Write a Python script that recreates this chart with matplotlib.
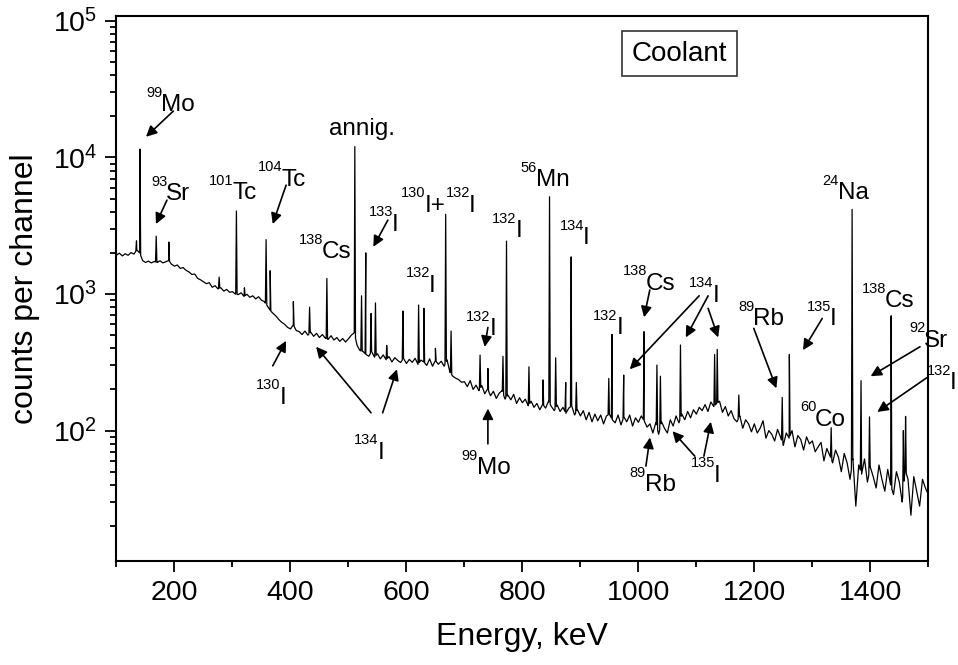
import numpy as np
import matplotlib
matplotlib.use("Agg")
import matplotlib.pyplot as plt
from matplotlib.ticker import LogLocator, MultipleLocator, NullFormatter
from matplotlib.transforms import offset_copy

plt.rcParams['font.family'] = ['Liberation Sans', 'DejaVu Sans']
plt.rcParams['mathtext.fontset'] = 'custom'
plt.rcParams['mathtext.rm'] = 'Liberation Sans'
plt.rcParams['mathtext.it'] = 'Liberation Sans:italic'
plt.rcParams['mathtext.bf'] = 'Liberation Sans:bold'

# Continuum of the coolant spectrum, sampled every 5 keV from 100 to 1500 keV
energy_start = 100
energy_step = 5
background = [
    1930, 1990, 1900, 1970, 1920, 2010, 1960, 2100, 2000, 1760, 1700, 1740, 1690, 1730, 1700, 1750, 1690, 1720, 1760, 1650,
    1600, 1630, 1540, 1560, 1490, 1450, 1390, 1400, 1300, 1270, 1230, 1190, 1210, 1120, 1150, 1090, 1110, 1050, 1080, 1030,
    1040, 1000, 990, 1020, 960, 995, 945, 970, 920, 955, 900, 880, 820, 760, 720, 690, 650, 620, 600, 570,
    555, 595, 540, 530, 505, 535, 500, 525, 490, 515, 480, 505, 475, 465, 495, 460, 480, 450, 472, 445,
    470, 500, 520, 420, 385, 380, 362, 350, 378, 345, 365, 335, 358, 330, 348, 318, 342, 326, 315, 338,
    310, 332, 316, 338, 305, 328, 318, 300, 335, 296, 326, 306, 322, 296, 330, 268, 250, 242, 236, 226,
    228, 210, 232, 200, 215, 196, 214, 186, 202, 180, 194, 172, 188, 196, 170, 182, 168, 184, 158, 174,
    160, 170, 152, 164, 148, 158, 142, 156, 146, 164, 150, 140, 154, 138, 148, 134, 146, 152, 130, 142,
    128, 140, 120, 136, 116, 132, 118, 130, 112, 128, 132, 120, 114, 130, 110, 126, 116, 130, 108, 124,
    115, 128, 118, 106, 112, 96, 114, 94, 116, 104, 96, 120, 108, 128, 114, 132, 120, 138, 124, 142,
    132, 148, 140, 155, 138, 162, 150, 158, 164, 136, 150, 128, 140, 122, 116, 128, 104, 120, 112, 98,
    112, 96, 104, 118, 88, 100, 94, 84, 102, 90, 78, 96, 88, 100, 76, 92, 86, 72, 90, 80,
    84, 70, 76, 82, 60, 74, 66, 58, 72, 64, 50, 68, 58, 44, 62, 28, 56, 48, 62, 42,
    54, 46, 38, 56, 44, 36, 52, 40, 34, 50, 42, 30, 52, 44, 24, 46, 36, 28, 44, 38, 34,
]

# Photopeaks: energy (keV) and counts at the peak channel
peak_energy = [
    134.5, 140.5, 168.5, 190.3, 277.0, 306.8, 320.6, 358.0, 365.0, 405.0,
    433.0, 462.8, 511.0, 522.6, 529.9, 539.0, 546.6, 566.0, 594.0, 621.0,
    630.2, 650.0, 667.7, 677.0, 727.0, 740.5, 766.5, 772.6, 811.3, 835.5,
    846.8, 857.4, 874.7, 884.1, 893.0, 949.0, 954.6, 974.7, 1009.8, 1032.0,
    1038.0, 1072.6, 1131.5, 1136.0, 1173.2, 1248.1, 1260.4, 1332.5, 1368.6, 1384.0,
    1398.6, 1435.9, 1457.0, 1460.8,
]
peak_counts = [
    2450, 11500, 2650, 2400, 1330, 4050, 1110, 2500, 1480, 880,
    800, 1300, 12000, 970, 2000, 720, 860, 420, 750, 830,
    785, 400, 3830, 535, 357, 285, 350, 2440, 293, 235,
    5150, 341, 225, 1870, 225, 241, 506, 255, 530, 302,
    250, 423, 360, 393, 182, 175, 361, 105, 4160, 232,
    126, 693, 100, 127,
]

bg_e = energy_start + energy_step * np.arange(len(background))
bg_c = np.array(background, dtype=float)
pk_e = np.array(peak_energy)
pk_c = np.array(peak_counts, dtype=float)

# each peak is a narrow spike standing on the continuum
half_width = 1.2
foot_e = np.concatenate([pk_e - half_width, pk_e + half_width])
foot_c = np.exp(np.interp(foot_e, bg_e, np.log(bg_c)))
all_e = np.concatenate([bg_e, pk_e, foot_e])
all_c = np.concatenate([bg_c, pk_c, foot_c])
order = np.argsort(all_e, kind='stable')
all_e, all_c = all_e[order], all_c[order]

fig = plt.figure(figsize=(9.58, 6.65), dpi=100)
ax = fig.add_axes([0.1216, 0.1564, 0.8474, 0.8200])
ax.plot(all_e, all_c, color='black', lw=0.9)

ax.set_yscale('log')
ax.set_xlim(100, 1500)
ax.set_ylim(11.1, 1.09e5)
ax.xaxis.set_major_locator(MultipleLocator(200))
ax.xaxis.set_minor_locator(MultipleLocator(100))
ax.yaxis.set_major_locator(LogLocator(base=10, numticks=10))
ax.yaxis.set_minor_locator(LogLocator(base=10, subs=np.arange(2, 10), numticks=20))
ax.yaxis.set_minor_formatter(NullFormatter())
ax.tick_params(which='both', direction='out', top=False, right=False, width=1.3)
ax.tick_params(which='major', length=8, labelsize=20.5, pad=6)
ax.tick_params(which='minor', length=4.5)
for s in ax.spines.values():
    s.set_linewidth(1.5)

ax.set_xlabel('Energy, keV', fontsize=23, labelpad=11)
ax.set_ylabel('counts per channel', fontsize=23, labelpad=9)

renderer = fig.canvas.get_renderer()
main_size = 17.5
sup_size = 10.5
sup_rise = 10.5  # points


def nuclide_label(x, y, parts):
    """Draw a label made of (text, is_superscript) pieces, left-aligned on the baseline at (x, y)."""
    dx = 0.0
    for txt, is_sup in parts:
        tr = offset_copy(ax.transData, fig=fig, x=dx, y=sup_rise if is_sup else 0.0, units='points')
        t = ax.text(x, y, txt, transform=tr, fontsize=sup_size if is_sup else main_size,
                    ha='left', va='baseline', clip_on=False)
        bb = t.get_window_extent(renderer)
        dx += bb.width * 72.0 / fig.dpi - (0.8 if is_sup else 0.0)


labels = [
    ([('99', 1), ('Mo', 0)], 150.9, 21830),
    ([('93', 1), ('Sr', 0)], 159.5, 4864),
    ([('101', 1), ('Tc', 0)], 260.0, 4932),
    ([('104', 1), ('Tc', 0)], 343.6, 6194),
    ([('138', 1), ('Cs', 0)], 413.8, 1820),
    ([('annig.', 0)], 467.0, 14500),
    ([('133', 1), ('I', 0)], 534.6, 2904),
    ([('130', 1), ('I+', 0), ('132', 1), ('I', 0)], 591.0, 4000),
    ([('132', 1), ('I', 0)], 598.5, 1038),
    ([('132', 1), ('I', 0)], 748.0, 2594),
    ([('56', 1), ('Mn', 0)], 796.5, 6166),
    ([('134', 1), ('I', 0)], 864.0, 2317),
    ([('132', 1), ('I', 0)], 703.0, 500),
    ([('132', 1), ('I', 0)], 922.0, 506),
    ([('138', 1), ('Cs', 0)], 972.5, 1070),
    ([('134', 1), ('I', 0)], 1087.5, 877),
    ([('89', 1), ('Rb', 0)], 1172.0, 592),
    ([('135', 1), ('I', 0)], 1290.0, 592),
    ([('60', 1), ('Co', 0)], 1278.6, 108),
    ([('24', 1), ('Na', 0)], 1317.8, 4932),
    ([('138', 1), ('Cs', 0)], 1385.0, 798),
    ([('92', 1), ('Sr', 0)], 1467.0, 411),
    ([('132', 1), ('I', 0)], 1497.0, 200),
    ([('130', 1), ('I', 0)], 340.7, 157),
    ([('134', 1), ('I', 0)], 510.0, 62),
    ([('99', 1), ('Mo', 0)], 695.0, 48),
    ([('89', 1), ('Rb', 0)], 985.0, 36),
    ([('135', 1), ('I', 0)], 1090.0, 42),
]
for parts, x, y in labels:
    nuclide_label(x, y, parts)

arrows = [
    ((198.0, 21830), (150.9, 14160)),
    ((187.0, 4864), (168.0, 3251)),
    ((392.5, 6266), (369.4, 3251)),
    ((568.0, 3475), (543.0, 2218)),
    ((740.5, 569), (735.0, 410)),
    ((1019.7, 1070), (1009.8, 675)),
    ((1104.8, 970), (985.2, 281)),
    ((1120.3, 970), (1081.8, 481)),
    ((1120.3, 785), (1137.6, 481)),
    ((1199.0, 560), (1238.0, 204)),
    ((1317.0, 662), (1284.0, 388)),
    ((1485.7, 411), (1400.6, 250)),
    ((1500.0, 248), (1412.0, 137)),
    ((369.5, 298), (392.5, 454)),
    ((539.0, 135), (444.3, 411)),
    ((559.0, 135), (583.6, 281)),
    ((740.5, 80), (740.5, 145)),
    ((1013.0, 55), (1020.0, 89)),
    ((1097.3, 65), (1058.8, 99)),
    ((1113.0, 65), (1125.0, 116)),
]
for (x0, y0), (x1, y1) in arrows:
    ax.annotate('', xy=(x1, y1), xytext=(x0, y0), annotation_clip=False,
                arrowprops=dict(arrowstyle='-|>', color='black', lw=1.2,
                                mutation_scale=16, shrinkA=0, shrinkB=0))

ax.text(1070.6, 57500, 'Coolant', fontsize=20, ha='center', va='center',
        bbox=dict(boxstyle='square,pad=0.35', fc='white', ec='#333333', lw=1.2))

fig.savefig('out.png', dpi=100)
